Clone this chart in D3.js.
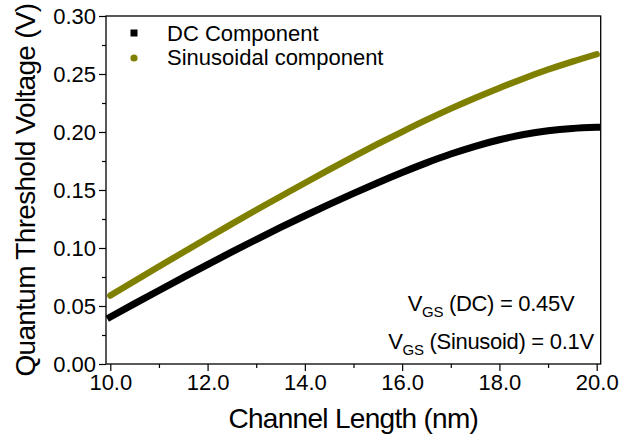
<!DOCTYPE html>
<html><head><meta charset="utf-8">
<script src="https://cdn.jsdelivr.net/npm/d3@7"></script>
<style>body{margin:0;background:#fff;} svg{display:block;font-family:Arial,"Liberation Sans",sans-serif;}</style>
</head><body>
<svg id="c" width="621" height="440"></svg>
<script>
const lengths = [10.0,10.5,11.0,11.5,12.0,12.5,13.0,13.5,14.0,14.5,15.0,15.5,16.0,16.5,17.0,17.5,18.0,18.5,19.0,19.5,20.0];
const dcValues = [0.0405,0.0520,0.0634,0.0746,0.0857,0.0966,0.1073,0.1177,0.1278,0.1376,0.1471,0.1563,0.1651,0.1734,0.1810,0.1877,0.1933,0.1978,0.2010,0.2030,0.2040];
const sinValues = [0.0590,0.0715,0.0840,0.0964,0.1087,0.1208,0.1327,0.1444,0.1561,0.1676,0.1788,0.1897,0.2002,0.2104,0.2201,0.2293,0.2380,0.2462,0.2538,0.2607,0.2670];
const xTicks = [10,12,14,16,18,20];
const xMinor = [11,13,15,17,19];
const yTicks = [0,0.05,0.10,0.15,0.20,0.25,0.30];
const yMinor = [0.025,0.075,0.125,0.175,0.225,0.275];
const seriesNames = ["DC Component","Sinusoidal component"];
const seriesColors = ["#000000","#808000"];

const svg = d3.select("#c");
const L = 106, R = 600.7, T = 16, B = 364;
const x = d3.scaleLinear().domain([10,20]).range([110.3,596.7]);
const y = d3.scaleLinear().domain([0,0.30]).range([B,T]);

// frame
svg.append("rect").attr("x",L).attr("y",T).attr("width",R-L).attr("height",B-T)
  .attr("fill","none").attr("stroke","#000").attr("stroke-width",1.3);

// axes
const xa = svg.append("g").attr("transform",`translate(0,${B})`)
  .call(d3.axisBottom(x).tickValues(xTicks).tickSize(7).tickPadding(3).tickFormat(d3.format(".1f")));
const xm = svg.append("g").attr("transform",`translate(0,${B})`)
  .call(d3.axisBottom(x).tickValues(xMinor).tickSize(4).tickFormat(""));
const ya = svg.append("g").attr("transform",`translate(${L},0)`)
  .call(d3.axisLeft(y).tickValues(yTicks).tickSize(7).tickPadding(3).tickFormat(d3.format(".2f")));
const ym = svg.append("g").attr("transform",`translate(${L},0)`)
  .call(d3.axisLeft(y).tickValues(yMinor).tickSize(4).tickFormat(""));
[xa,xm,ya,ym].forEach(g=>{
  g.select(".domain").remove();
  g.selectAll("line").attr("stroke","#000").attr("stroke-width",1.2);
  g.selectAll("text").attr("fill","#000").style("font-size","22px").style("font-family","Arial, 'Liberation Sans', sans-serif");
});
xa.selectAll("text").attr("dy","0.71em");

// titles
svg.append("text").attr("x",(L+R)/2).attr("y",428).attr("text-anchor","middle")
  .style("font-size","28px").style("letter-spacing","-0.7px").text("Channel Length (nm)");
svg.append("text").attr("transform",`translate(35,${(T+B)/2}) rotate(-90)`).attr("text-anchor","middle")
  .style("font-size","28px").style("letter-spacing","-0.7px").text("Quantum Threshold Voltage (V)");

// curves
const lineGen = vals => d3.line().x((d,i)=>x(lengths[i])).y(d=>y(d)).curve(d3.curveMonotoneX)(vals);
svg.append("path").attr("d",lineGen(dcValues)).attr("fill","none").attr("stroke",seriesColors[0])
  .attr("stroke-width",7).attr("stroke-linecap","square");
svg.append("path").attr("d",lineGen(sinValues)).attr("fill","none").attr("stroke",seriesColors[1])
  .attr("stroke-width",6.4).attr("stroke-linecap","round");

// legend
svg.append("rect").attr("x",130.5).attr("y",29.5).attr("width",7).attr("height",7).attr("fill",seriesColors[0]);
svg.append("circle").attr("cx",134).attr("cy",58).attr("r",3.6).attr("fill",seriesColors[1]);
svg.append("text").attr("x",167).attr("y",41).style("font-size","22px").text(seriesNames[0]);
svg.append("text").attr("x",167).attr("y",65).style("font-size","22px").text(seriesNames[1]);

// annotations
function ann(yb, inner){
  const t = svg.append("text").attr("x",491).attr("y",yb).attr("text-anchor","middle")
    .style("font-size","22px").style("letter-spacing","-0.3px");
  t.append("tspan").text("V");
  t.append("tspan").attr("dy",6).style("font-size","15px").text("GS");
  t.append("tspan").attr("dy",-6).text(" " + inner);
}
ann(311,"(DC) = 0.45V");
ann(349,"(Sinusoid) = 0.1V");
</script>
</body></html>
